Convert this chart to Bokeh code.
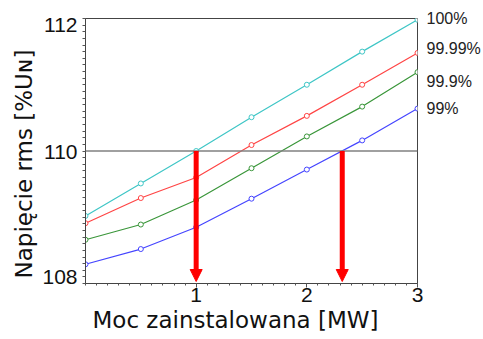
from bokeh.plotting import figure
from bokeh.models import Range1d, FixedTicker, LinearAxis, Span, Arrow, NormalHead, Title
from bokeh.embed import file_html
from bokeh.resources import INLINE

# ---- data ----
moc = [0.0, 0.5, 1.0, 1.5, 2.0, 2.5, 3.0]
u_100 = [109.02, 109.51, 110.00, 110.51, 111.00, 111.50, 111.98]
u_9999 = [108.91, 109.29, 109.60, 110.09, 110.53, 111.00, 111.48]
u_999 = [108.66, 108.89, 109.26, 109.74, 110.22, 110.67, 111.19]
u_99 = [108.29, 108.52, 108.85, 109.28, 109.72, 110.16, 110.64]
series_names = ["100%", "99.99%", "99.9%", "99%"]
limit_u = 110.0
arrow_x = [1.0, 2.32]
x_ticks = [1, 2, 3]
y_tick_labels = ["108", "110", "112"]
x_title = "Moc zainstalowana [MW]"
y_title = "Napięcie rms [%U\u0274]"

# ---- style / layout ----
colors = ["#3fc6c6", "#ff4545", "#3a963a", "#4545ff"]
name_label_y = [112.0, 111.55, 111.05, 110.64]
y_label_pos = [108.1, 109.985, 111.9]

p = figure(width=483, height=339, x_range=Range1d(0, 3), y_range=Range1d(108, 112),
           output_backend="svg", toolbar_location=None, y_axis_location=None,
           min_border_left=85, min_border_right=64, min_border_top=18, min_border_bottom=56)
p.grid.visible = False
p.outline_line_color = "#444444"
p.background_fill_color = "white"
p.border_fill_color = "white"

# x axis
xa = p.xaxis[0]
xa.ticker = FixedTicker(ticks=x_ticks, minor_ticks=[i / 10 for i in range(31)])
xa.major_label_text_font = "Liberation Sans"
xa.major_label_text_font_size = "21px"
xa.major_label_text_color = "#111111"
xa.major_label_standoff = 0

# inner y axis: tick marks only
ya = LinearAxis(ticker=FixedTicker(ticks=[], minor_ticks=[108 + i / 10 for i in range(41)]),
                major_label_standoff=0)
p.add_layout(ya, "left")
for ax in (xa, ya):
    ax.axis_line_color = "#444444"
    ax.major_tick_line_color = "#555555"
    ax.minor_tick_line_color = "#555555"
    ax.major_tick_out = 4
    ax.major_tick_in = 0
    ax.minor_tick_out = 2
    ax.minor_tick_in = 0
ya.minor_tick_out = 3

# outer y axis: tick labels
yl = LinearAxis(ticker=FixedTicker(ticks=y_label_pos),
                major_label_overrides={v: t for v, t in zip(y_label_pos, y_tick_labels)},
                axis_line_color=None, major_tick_line_color=None, minor_tick_line_color=None,
                major_tick_out=0, major_tick_in=0, major_label_standoff=5,
                major_label_text_font="Liberation Sans", major_label_text_font_size="21px",
                major_label_text_color="#111111")
p.add_layout(yl, "left")

# axis titles
p.add_layout(Title(text=x_title, align="left", offset=7, standoff=0,
                   text_font="DejaVu Sans", text_font_size="23px",
                   text_font_style="normal", text_color="#111111"), "below")
p.add_layout(Title(text=y_title, align="left", offset=5, standoff=5,
                   text_font="DejaVu Sans", text_font_size="23px",
                   text_font_style="normal", text_color="#111111"), "left")

# right axis: series names
ra = LinearAxis(ticker=FixedTicker(ticks=name_label_y),
                major_label_overrides={v: t for v, t in zip(name_label_y, series_names)},
                axis_line_color=None, major_tick_line_color=None, minor_tick_line_color=None,
                major_tick_out=0, major_tick_in=0, major_label_standoff=9,
                major_label_text_font="Liberation Sans", major_label_text_font_size="16px",
                major_label_text_color="#222222")
p.add_layout(ra, "right")

# horizontal limit line
p.add_layout(Span(location=limit_u, dimension="width", line_color="#808080", line_width=1.5))

for ys, c in zip([u_100, u_9999, u_999, u_99], colors):
    p.line(moc, ys, line_color=c, line_width=1.2)
    p.scatter(moc, ys, marker="circle", size=5, fill_color="white", line_color=c, line_width=1)

for ax_x in arrow_x:
    p.add_layout(Arrow(end=NormalHead(size=12, fill_color="red", line_color="red"),
                       x_start=ax_x, y_start=limit_u, x_end=ax_x, y_end=108.03,
                       line_color="red", line_width=5))

open("out.html", "w").write(file_html(p, INLINE))
